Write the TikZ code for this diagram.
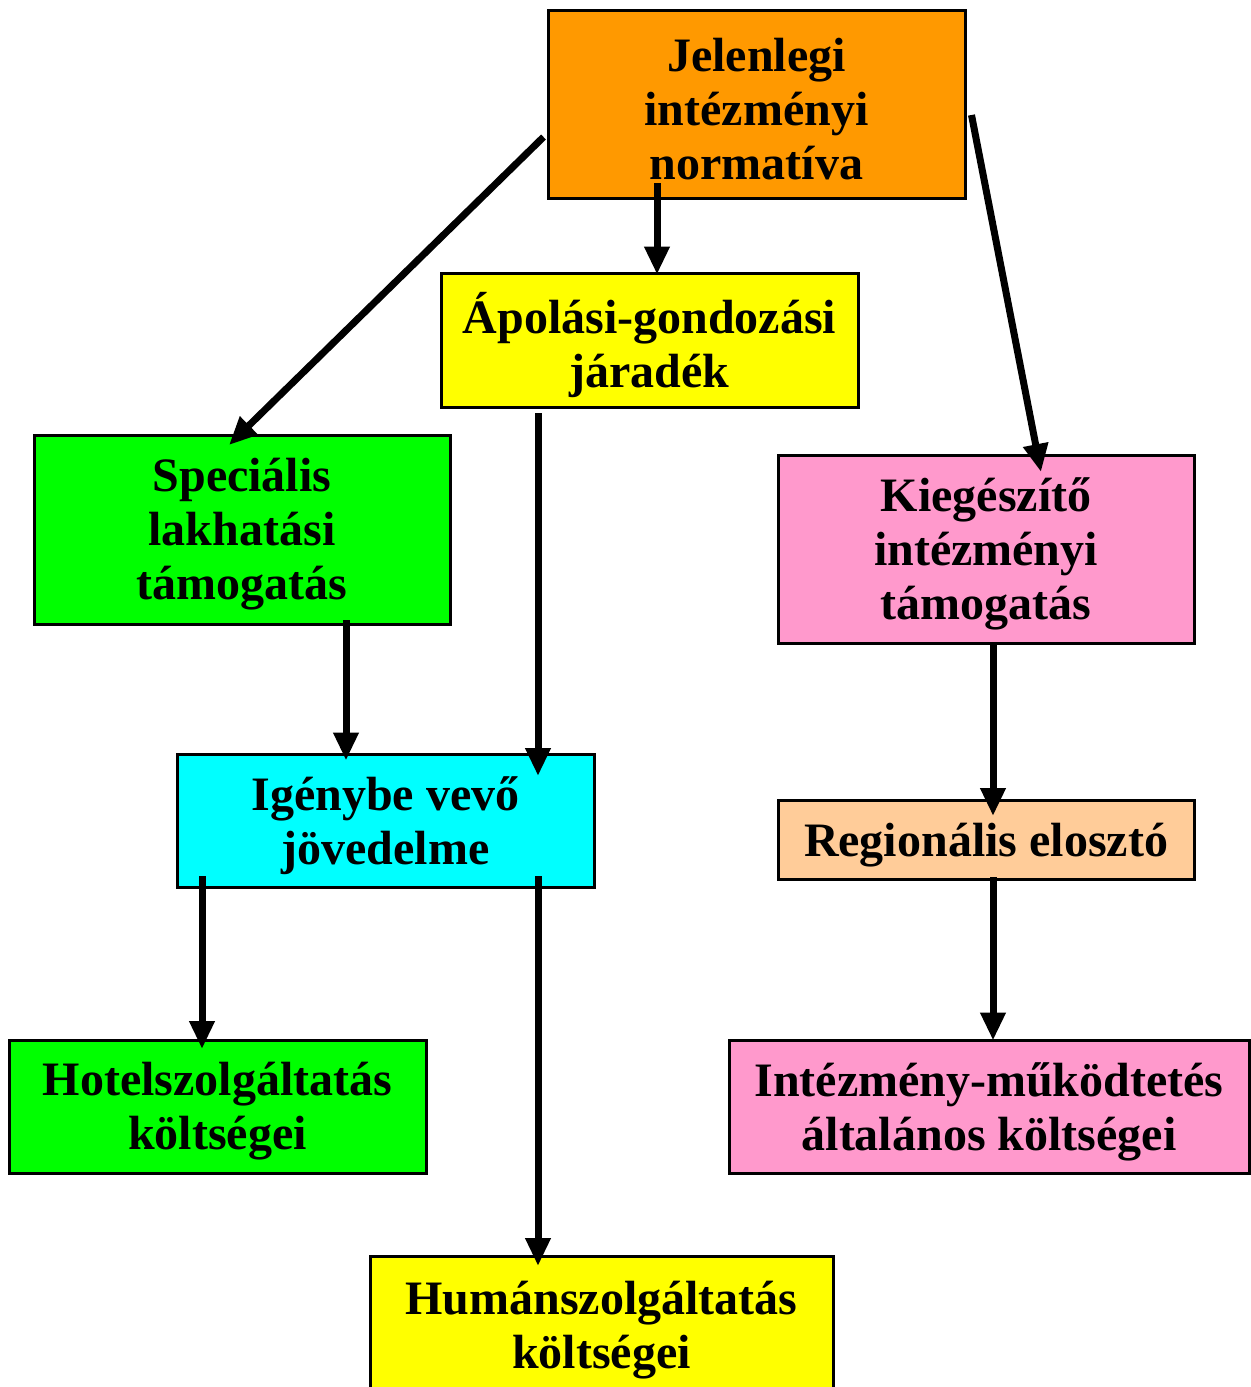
\documentclass[tikz,border=0pt]{standalone}
\usepackage{fontspec}
\setmainfont{Liberation Serif}
\usetikzlibrary{arrows.meta,calc}

\definecolor{cOrange}{HTML}{FF9900}
\definecolor{cYellow}{HTML}{FFFF00}
\definecolor{cGreen}{HTML}{00FF00}
\definecolor{cPink}{HTML}{FF99CC}
\definecolor{cCyan}{HTML}{00FFFF}
\definecolor{cPeach}{HTML}{FFCC99}

\tikzset{
  box/.style={draw=black, line width=1.5pt, rectangle, inner sep=0pt},
  txt/.style={align=center, inner sep=0pt,
    font=\fontsize{24}{27}\selectfont\bfseries},
  flow/.style={line width=3.5pt, -{Triangle[width=12pt,length=14pt]}}
}

\begin{document}
\begin{tikzpicture}[x=0.5pt, y=-0.5pt]
\useasboundingbox (0,0) rectangle (1251,1387);

% boxes
\node[box, fill=cOrange, minimum width=208.5pt, minimum height=94pt]
  (norm) at (756.5,104) {};
\node[box, fill=cYellow, minimum width=208.5pt, minimum height=67pt]
  (apol) at (649.5,340) {};
\node[box, fill=cGreen, minimum width=208pt, minimum height=94.5pt]
  (spec) at (242,529.5) {};
\node[box, fill=cPink, minimum width=208pt, minimum height=94pt]
  (kieg) at (986,549) {};
\node[box, fill=cCyan, minimum width=208.5pt, minimum height=66.5pt]
  (jov) at (385.5,820.5) {};
\node[box, fill=cPeach, minimum width=208pt, minimum height=39.5pt]
  (reg) at (986,839.5) {};
\node[box, fill=cGreen, minimum width=208.5pt, minimum height=66.5pt]
  (hotel) at (217.5,1106.5) {};
\node[box, fill=cPink, minimum width=260pt, minimum height=66.5pt]
  (mukod) at (989,1106.5) {};
\node[box, fill=cYellow, minimum width=231.5pt, minimum height=74pt]
  (human) at (601.5,1330) {};

% box texts
\node[txt] (normT)  at ($(norm)+(0,5)$)  {Jelenlegi\\intézményi\\normatíva};
\node[txt] (apolT)  at ($(apol)+(0,5)$)  {Ápolási-gondozási\\járadék};
\node[txt] (specT)  at ($(spec)+(0,5)$)  {Speciális\\lakhatási\\támogatás};
\node[txt] (kiegT)  at ($(kieg)+(0,5)$)  {Kiegészítő\\intézményi\\támogatás};
\node[txt] (jovT)   at ($(jov)+(0,5)$)   {Igénybe vevő\\jövedelme};
\node[txt] (regT)   at ($(reg)+(0,6)$)   {Regionális elosztó};
\node[txt] (hotelT) at ($(hotel)+(0,5)$) {Hotelszolgáltatás\\költségei};
\node[txt] (mukodT) at ($(mukod)+(0,5)$) {Intézmény-működtetés\\általános költségei};
\node[txt] (humanT) at ($(human)+(0,0)$) {Humánszolgáltatás\\költségei};

% connector end points
\coordinate (a1s) at ($(norm.west)+(-3,33)$);
\coordinate (a1e) at (229,445);
\coordinate (a2s) at (657,183);
\coordinate (a3s) at ($(norm.east)+(5,11)$);
\coordinate (a3e) at (1041,472);
\coordinate (a4s) at (346,620);
\coordinate (a5s) at (538,413);
\coordinate (a5e) at (538,776);
\coordinate (a6s) at (993,645);
\coordinate (a6e) at (993,816);
\coordinate (a7s) at (993,877);
\coordinate (a8s) at (202,876);
\coordinate (a8e) at (202,1049);
\coordinate (a9s) at (538,876);
\coordinate (a9e) at (538,1266);

% connectors
\draw[flow] (a1s) -- (a1e);
\draw[flow] (a2s) -- ($(a2s |- apol.north)+(0,3)$);
\draw[flow] (a3s) -- (a3e);
\draw[flow] (a4s) -- ($(a4s |- jov.north)+(0,8)$);
\draw[flow] (a5s) -- (a5e);
\draw[flow] (a6s) -- (a6e);
\draw[flow] (a7s) -- ($(a7s |- mukod.north)+(0,2)$);
\draw[flow] (a8s) -- (a8e);
\draw[flow] (a9s) -- (a9e);
\end{tikzpicture}
\end{document}
